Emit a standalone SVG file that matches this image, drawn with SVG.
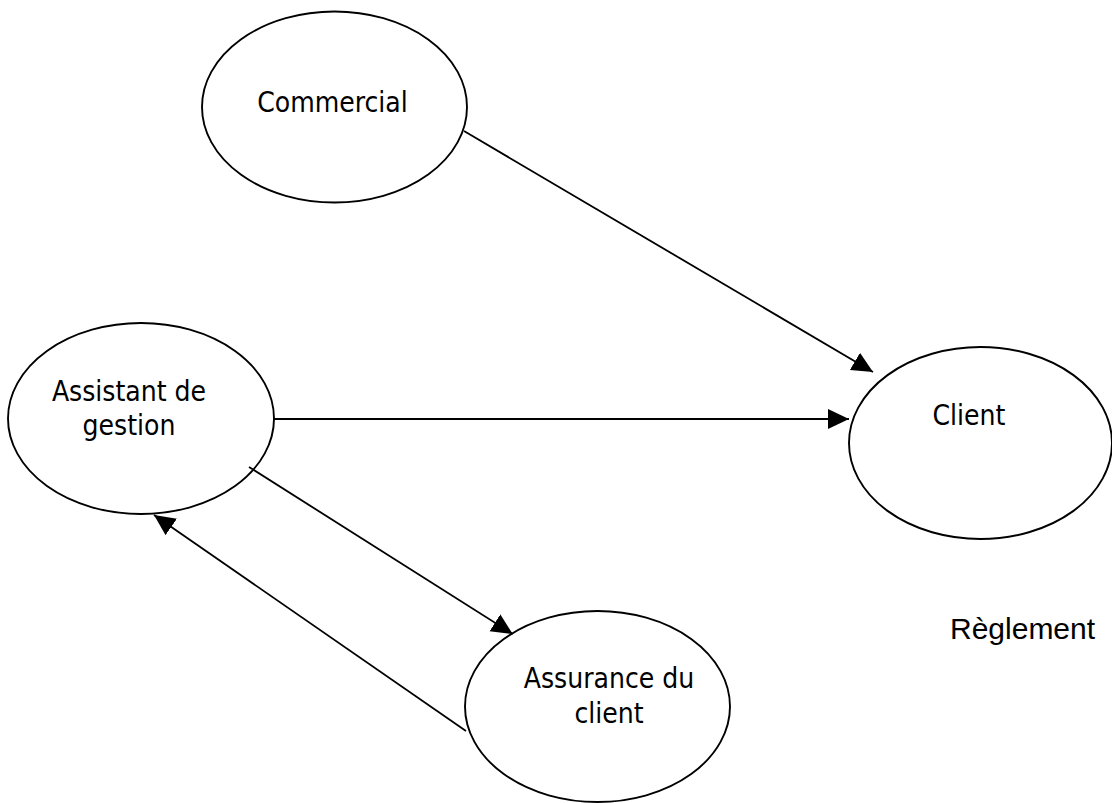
<svg xmlns="http://www.w3.org/2000/svg" width="1112" height="803" viewBox="0 0 1112 803">
<style>
.node{fill:#fff;stroke:#000;stroke-width:1.9}
.lbl{font-family:'DejaVu Sans Condensed','DejaVu Sans',sans-serif;font-stretch:condensed;font-size:28px;fill:#000;text-anchor:middle}
.edge{stroke:#000;stroke-width:1.8;fill:none;marker-end:url(#arr)}
.free{font-family:'Liberation Sans',Arial,sans-serif;font-size:30px;fill:#000}
</style>
<defs>
<marker id="arr" markerUnits="userSpaceOnUse" markerWidth="22" markerHeight="21" refX="21" refY="10" orient="auto" viewBox="0 0 22 20">
<path d="M0,0 L21,10 L0,20 z" fill="#000"/>
</marker>
</defs>
<rect width="1112" height="803" fill="#fff"/>
<g id="commercial">
<ellipse class="node" cx="334.5" cy="107" rx="132.5" ry="95.5"/>
<text class="lbl" x="332.5" y="112">Commercial</text>
</g>
<g id="assistant">
<ellipse class="node" cx="141" cy="418.5" rx="133" ry="95.5"/>
<text class="lbl" x="129" y="401">Assistant de</text>
<text class="lbl" x="129" y="435">gestion</text>
</g>
<g id="client">
<ellipse class="node" cx="980.5" cy="443" rx="131.5" ry="96"/>
<text class="lbl" x="969" y="425">Client</text>
</g>
<g id="assurance">
<ellipse class="node" cx="597.5" cy="706.5" rx="132.5" ry="95.5"/>
<text class="lbl" x="609" y="688">Assurance du</text>
<text class="lbl" x="609" y="723">client</text>
</g>
<g id="connectors">
<line class="edge" x1="464" y1="131" x2="873" y2="372"/>
<line class="edge" x1="274" y1="419" x2="849" y2="419"/>
<line class="edge" x1="249" y1="467" x2="512.7" y2="634"/>
<line class="edge" x1="466" y1="731" x2="154" y2="515"/>
</g>
<text class="free" x="950" y="639">Règlement</text>
</svg>
